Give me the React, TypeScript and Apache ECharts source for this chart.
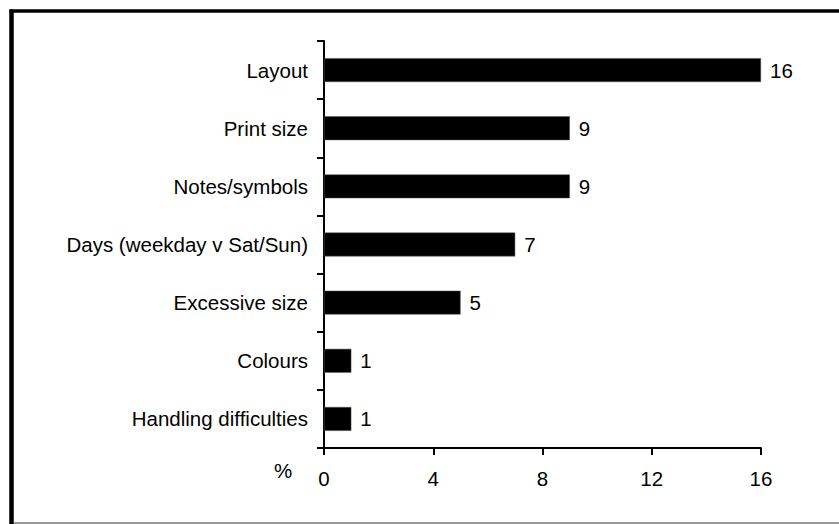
import React, { useEffect, useRef } from "react";
import * as echarts from "echarts";

const categories = [
  "Handling difficulties",
  "Colours",
  "Excessive size",
  "Days (weekday v Sat/Sun)",
  "Notes/symbols",
  "Print size",
  "Layout",
];
const values = [1, 1, 5, 7, 9, 9, 16];
const xTicks = [0, 4, 8, 12, 16];
const unitLabel = "%";

export default function App() {
  const ref = useRef<HTMLDivElement>(null);
  useEffect(() => {
    if (!ref.current) return;
    const chart = echarts.init(ref.current, null, { renderer: "svg" });
    const font = "'Liberation Sans', Arial, sans-serif";
    const fs = 20.5;
    chart.setOption({
      animation: false,
      backgroundColor: "#ffffff",
      textStyle: { fontFamily: font },
      grid: { left: 324, top: 41, right: 78, bottom: 76, containLabel: false },
      xAxis: {
        type: "value",
        min: xTicks[0],
        max: xTicks[xTicks.length - 1],
        interval: 4,
        axisLine: { show: true, lineStyle: { color: "#000", width: 2 } },
        axisTick: { show: true, length: 7, lineStyle: { color: "#000", width: 2 } },
        axisLabel: { color: "#000", fontSize: fs, fontFamily: font, margin: 20 },
        splitLine: { show: false },
      },
      yAxis: {
        type: "category",
        data: categories,
        axisLine: { show: true, lineStyle: { color: "#000", width: 2 } },
        axisTick: { show: true, length: 7, alignWithLabel: false, lineStyle: { color: "#000", width: 2 } },
        axisLabel: { color: "#000", fontSize: fs, fontFamily: font, margin: 16 },
        splitLine: { show: false },
      },
      series: [
        {
          type: "bar",
          data: values,
          barWidth: "41%",
          itemStyle: { color: "#000", borderColor: "#555", borderWidth: 0.5 },
          label: {
            show: true,
            position: "right",
            distance: 9,
            color: "#000",
            fontSize: fs,
            fontFamily: font,
          },
        },
      ],
      graphic: [
        {
          type: "line",
          shape: { x1: 9.5, y1: 11, x2: 839, y2: 11 },
          style: { stroke: "#000", lineWidth: 3.5 },
          z: 10,
        },
        {
          type: "line",
          shape: { x1: 11.5, y1: 9.5, x2: 11.5, y2: 524 },
          style: { stroke: "#000", lineWidth: 4.5 },
          z: 10,
        },
        {
          type: "line",
          shape: { x1: 14, y1: 523, x2: 839, y2: 523 },
          style: { stroke: "#777", lineWidth: 1.5 },
          z: 11,
        },
        {
          type: "text",
          x: 283,
          y: 470,
          style: { text: unitLabel, fill: "#000", font: `${fs}px ${font}`, textAlign: "center", textVerticalAlign: "middle" },
        },
      ],
    });
    return () => chart.dispose();
  }, []);
  return (
    <div
      ref={ref}
      style={{ position: "fixed", left: 0, top: 0, width: 839, height: 524 }}
    />
  );
}
